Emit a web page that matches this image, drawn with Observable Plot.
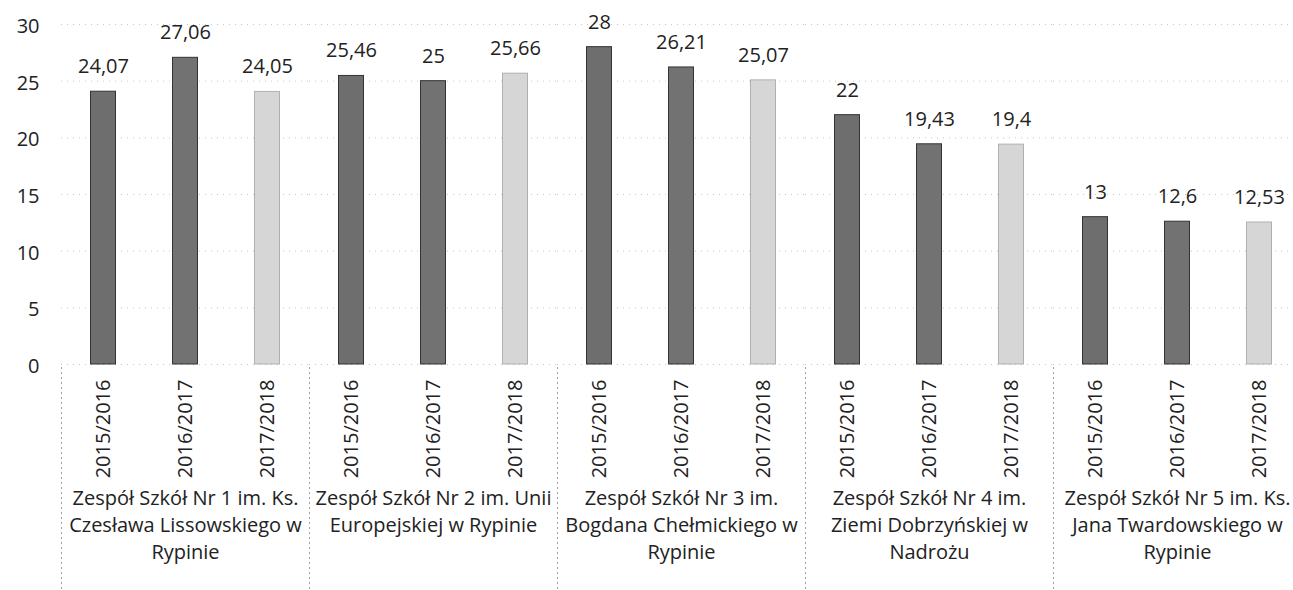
<!DOCTYPE html>
<html>
<head>
<meta charset="utf-8">
<script src="https://cdn.jsdelivr.net/npm/d3@7"></script>
<script src="https://cdn.jsdelivr.net/npm/@observablehq/plot@0.6"></script>
<style>
  html, body { margin: 0; padding: 0; background: #fff; }
  #chart svg { display: block; }
</style>
</head>
<body>
<div id="chart"></div>
<script>
const groups = ["ZS1", "ZS2", "ZS3", "ZS4", "ZS5"];
const groupLabels = [
  "Zespół Szkół Nr 1 im. Ks.\nCzesława Lissowskiego w\nRypinie",
  "Zespół Szkół Nr 2 im. Unii\nEuropejskiej w Rypinie",
  "Zespół Szkół Nr 3 im.\nBogdana Chełmickiego w\nRypinie",
  "Zespół Szkół Nr 4 im.\nZiemi Dobrzyńskiej w\nNadrożu",
  "Zespół Szkół Nr 5 im. Ks.\nJana Twardowskiego w\nRypinie"
];
const years = ["2015/2016", "2016/2017", "2017/2018"];
const values2015 = [24.07, 25.46, 28, 22, 13];
const values2016 = [27.06, 25, 26.21, 19.43, 12.6];
const values2017 = [24.05, 25.66, 25.07, 19.4, 12.53];
const yTicks = [0, 5, 10, 15, 20, 25, 30];
const barFills = ["#6e6e6e", "#727272", "#d6d6d6"];
const barStrokes = ["#333333", "#333333", "#b0b0b0"];

const series = [values2015, values2016, values2017];
const data = [];
groups.forEach((g, gi) => {
  years.forEach((y, yi) => {
    data.push({group: g, year: y, value: series[yi][gi], yi});
  });
});

const fmt = v => String(v).replace(".", ",");
const font = "'Open Sans', sans-serif";

const chart = Plot.plot({
  width: 1293,
  height: 590,
  marginLeft: 60,
  marginRight: -9,
  marginTop: 24,
  marginBottom: 226,
  style: {fontFamily: font, color: "#222", background: "#fff"},
  fx: {domain: groups, padding: 0},
  x: {domain: years, padding: 0},
  y: {domain: [0, 30]},
  marks: [
    Plot.gridY(yTicks, {stroke: "#999", strokeOpacity: 0.55, strokeDasharray: "1,5"}),
    Plot.frame({anchor: "left", stroke: "#888", strokeDasharray: "1,4", strokeOpacity: 0.8, insetTop: 343, insetBottom: -226}),
    Plot.barY(data, {
      fx: "group", x: "year", y: "value",
      fill: d => barFills[d.yi], stroke: d => barStrokes[d.yi], strokeWidth: 1,
      insetLeft: 28.5, insetRight: 28.5
    }),
    Plot.text(data, {
      fx: "group", x: "year", y: "value",
      text: d => fmt(d.value), dy: -25, lineAnchor: "middle",
      fontSize: 20, fill: "#222"
    }),
    Plot.axisY(yTicks, {tickSize: 0, tickPadding: 22, dy: 2, fontSize: 20, label: null}),
    Plot.axisX({tickSize: 0, tickPadding: 15, tickRotate: -90, fontSize: 20, label: null}),
    Plot.axisFx({
      anchor: "bottom", tickSize: 0, tickPadding: 121, fontSize: 20, lineHeight: 1.35,
      label: null, tickFormat: g => groupLabels[groups.indexOf(g)]
    })
  ],
  color: {type: "identity"}
});

document.getElementById("chart").appendChild(chart);
</script>
</body>
</html>
